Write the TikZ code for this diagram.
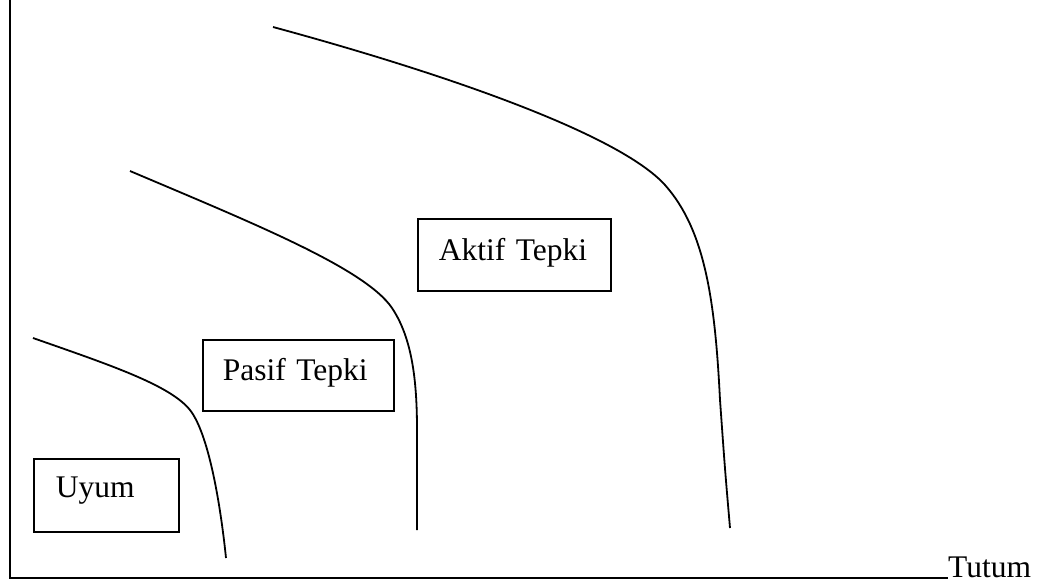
\documentclass[tikz,border=0pt]{standalone}
\usepackage{fontspec}
\setmainfont{Liberation Serif}
\usetikzlibrary{positioning}
\tikzset{
    kutu/.style={
        rectangle, draw, line width=1.6pt, align=left,
        inner ysep=0pt, anchor=north west,
        font=\fontsize{31.5}{36}\selectfont
    },
    yazi/.style={
        inner sep=0pt, anchor=base west,
        font=\fontsize{31.5}{36}\selectfont
    },
    eksen/.style={
        line width=1.8pt
    },
    egri/.style={
        line width=1.8pt
    }
}
\begin{document}
\begin{tikzpicture}[x=1pt, y=-1pt]
        \useasboundingbox (0,0) rectangle (1043,587);
        % \draw[help lines, step=50] (0,0) grid (1043,587);

        % Eksenler

        \coordinate (ytop) at (10,0);
        \coordinate (O)    at (10,578);
        \node[yazi] (tutum) at (948,577) {Tutum};

        \draw[eksen] (ytop) -- (O) -- (tutum.base west |- O);

        % Kutular

        \node[kutu, text width=101pt, inner xsep=22pt, text height=39pt, text depth=34pt]
                (uyum)  at (33,458)  {Uyum};
        \node[kutu, text width=151pt, inner xsep=20pt, text height=41pt, text depth=30pt]
                (pasif) at (202,339) {Pasif Tepki};
        \node[kutu, text width=151pt, inner xsep=21pt, text height=42pt, text depth=30pt]
                (aktif) at (417,218) {Aktif Tepki};

        % Egriler

        \draw[egri] (33,338) .. controls (110,365) and (170,385) .. (190,410)
                .. controls (208,433) and (220,500) .. (226,558);
        \draw[egri] (130,171) .. controls (250,222) and (365,268) .. (392,308)
                .. controls (412,338) and (417,380) .. (417,430) -- (417,530);
        \draw[egri] (273,27) .. controls (450,75) and (620,135) .. (665,185)
                .. controls (705,230) and (715,300) .. (720,400)
                .. controls (725,470) .. (730,528);
\end{tikzpicture}
\end{document}
